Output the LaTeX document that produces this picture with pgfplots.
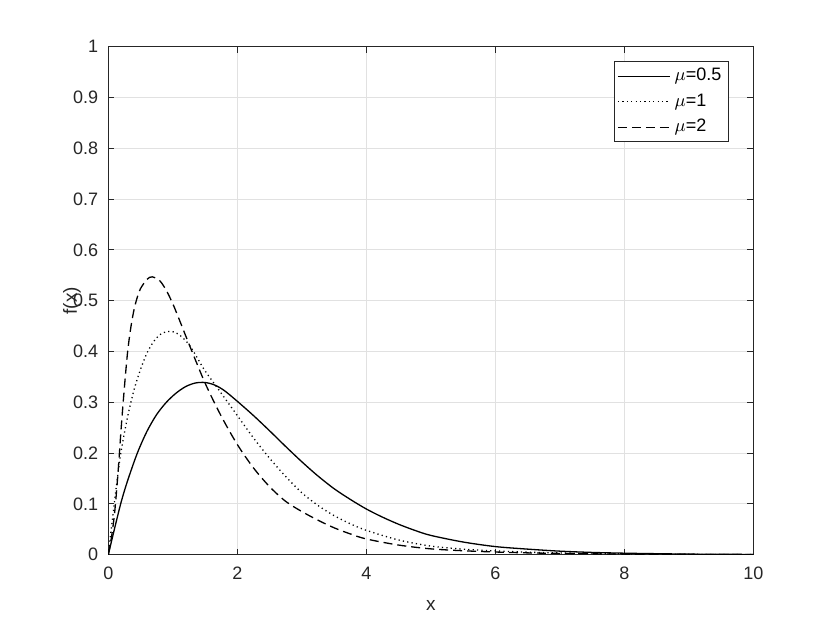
\documentclass[border=0pt]{standalone}
\usepackage{fontspec}
\setmainfont{Liberation Sans}
\usepackage{pgfplots}
\pgfplotsset{compat=1.18}
\definecolor{axgray}{RGB}{38,38,38}
\definecolor{gridgray}{RGB}{225,225,225}
\begin{document}
\begin{tikzpicture}
\path[use as bounding box] (0pt,0pt) rectangle (415pt,311.5pt);
\begin{axis}[
  at={(54.15pt,34.15pt)}, anchor=south west,
  scale only axis, width=322.5pt, height=254pt,
  xmin=0, xmax=10, ymin=0, ymax=1,
  xtick={0,2,4,6,8,10},
  ytick={0,0.1,0.2,0.3,0.4,0.5,0.6,0.7,0.8,0.9,1},
  yticklabels={0,0.1,0.2,0.3,0.4,0.5,0.6,0.7,0.8,0.9,1},
  xticklabels={0,2,4,6,8,10},
  grid=major,
  grid style={color=gridgray, line width=0.5pt},
  axis line style={color=axgray, line width=0.5pt},
  tick style={color=axgray, line width=0.5pt},
  tick align=inside, major tick length=3pt,
  ticklabel style={font=\fontsize{9}{10}\selectfont, color=axgray},
  xticklabel style={yshift=-2.5pt},
  yticklabel style={xshift=-1.5pt},
  xlabel={x}, ylabel={f(x)},
  xlabel style={font=\fontsize{9.5}{11}\selectfont, color=axgray, at={(axis description cs:0.5,-0.099)}, anchor=center},
  ylabel style={font=\fontsize{9.5}{11}\selectfont, color=axgray, at={(axis description cs:-0.0563,0.5)}, anchor=center},
  legend style={at={(axis description cs:0.962,0.972)}, anchor=north east,
    draw=axgray, line width=0.5pt, fill=white,
    font=\fontsize{9}{10}\selectfont, row sep=1pt, inner sep=1.5pt},
  legend cell align=left,
  legend image code/.code={\draw[#1] (0pt,0pt) -- (26pt,0pt);},
]
\addplot[black, line width=0.65pt, smooth, tension=0.5] coordinates {
(0,0) (0.1,0.053) (0.2,0.104) (0.3,0.146) (0.45,0.200) (0.6,0.243) (0.75,0.276)
(0.9,0.300) (1.05,0.318) (1.2,0.331) (1.35,0.338) (1.5,0.339) (1.65,0.334)
(1.8,0.323) (2.0,0.302) (2.25,0.274) (2.5,0.244) (2.75,0.213) (3.0,0.183)
(3.25,0.155) (3.5,0.130) (3.75,0.109) (4.0,0.090) (4.25,0.074) (4.5,0.060)
(4.75,0.048) (5.0,0.038) (5.5,0.025) (6.0,0.016) (6.5,0.011) (7.0,0.007)
(7.5,0.0045) (8.0,0.003) (8.5,0.002) (9.0,0.0012) (9.5,0.0008) (10,0.0005)
};
\addlegendentry{$\mu$=0.5}
\addplot[black, line width=0.65pt, dash pattern=on 0.6pt off 1.6pt, smooth, tension=0.5] coordinates {
(0,0) (0.05,0.055) (0.1,0.108) (0.15,0.16) (0.2,0.205) (0.3,0.272) (0.4,0.325)
(0.5,0.365) (0.6,0.397) (0.7,0.419) (0.8,0.433) (0.9,0.439) (1.0,0.439)
(1.1,0.433) (1.25,0.414) (1.4,0.383) (1.5,0.362) (1.75,0.318) (2.0,0.274)
(2.25,0.230) (2.5,0.190) (2.75,0.154) (3.0,0.122) (3.25,0.097) (3.5,0.077)
(3.75,0.061) (4.0,0.048) (4.5,0.029) (5.0,0.017) (5.5,0.011) (6.0,0.0075)
(6.5,0.005) (7.0,0.0035) (7.5,0.0025) (8.0,0.0016) (9.0,0.0007) (10,0.0003)
};
\addlegendentry{$\mu$=1}
\addplot[black, line width=0.65pt, dash pattern=on 4.5pt off 2.5pt, smooth, tension=0.5] coordinates {
(0,0) (0.05,0.035) (0.1,0.085) (0.15,0.16) (0.2,0.25) (0.25,0.33) (0.3,0.40)
(0.35,0.448) (0.4,0.483) (0.45,0.507) (0.5,0.524) (0.6,0.542) (0.68,0.547)
(0.8,0.539) (0.9,0.52) (1.0,0.494) (1.1,0.463) (1.25,0.415) (1.5,0.338)
(1.75,0.273) (2.0,0.217) (2.25,0.171) (2.5,0.134) (2.75,0.105) (3.0,0.085)
(3.25,0.068) (3.5,0.053) (3.75,0.041) (4.0,0.031) (4.5,0.019) (5.0,0.0115)
(5.5,0.0078) (6.0,0.0053) (6.5,0.0036) (7.0,0.0025) (7.5,0.0017) (8.0,0.0012)
(9.0,0.0006) (10,0.0003)
};
\addlegendentry{$\mu$=2}
\end{axis}
\end{tikzpicture}
\end{document}
